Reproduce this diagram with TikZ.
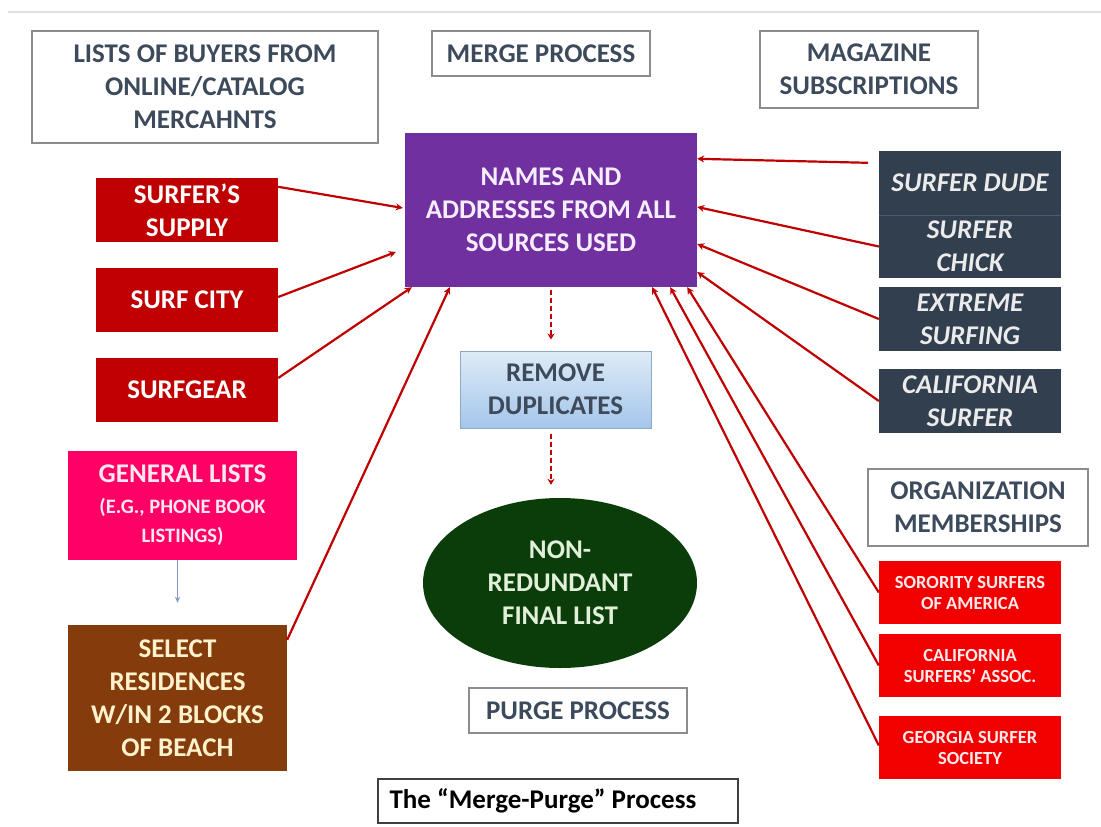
\documentclass[tikz,border=0pt]{standalone}
\usepackage{fontspec}
\setmainfont{Carlito}
\usetikzlibrary{arrows.meta,calc,shapes.geometric}
\definecolor{hdrtext}{HTML}{3C4A5C}
\definecolor{bordergray}{HTML}{8C8C8C}
\definecolor{mergepurple}{HTML}{7030A0}
\definecolor{darkred}{HTML}{C00000}
\definecolor{navy}{HTML}{323F4F}
\definecolor{navyline}{HTML}{4A5A72}
\definecolor{brightred}{HTML}{F20000}
\definecolor{hotpink}{HTML}{FF0066}
\definecolor{selbrown}{HTML}{843C0C}
\definecolor{forest}{HTML}{0B3D0B}
\definecolor{lightblueA}{HTML}{DEEBF7}
\definecolor{lightblueB}{HTML}{A5C6EA}
\definecolor{blueborder}{HTML}{8FA8C8}
\definecolor{bluearrow}{HTML}{7F9CC0}
\definecolor{cream}{HTML}{FFF2CC}
\definecolor{palegreen}{HTML}{E2F0D9}
\definecolor{lavender}{HTML}{F6EEFF}
\definecolor{palepink}{HTML}{FFE8F0}
\begin{document}
\begin{tikzpicture}[x=1pt,y=-1pt,
  box/.style={rectangle, inner sep=0pt, align=center, font=\bfseries\fontsize{27}{33}\selectfont},
  hdr/.style={box, draw=bordergray, line width=1.3pt, fill=white, text=hdrtext},
  srcred/.style={box, fill=darkred, text=white, minimum width=182pt, minimum height=64pt},
  mag/.style={box, fill=navy, text=white!92!black, minimum width=182pt, font=\bfseries\itshape\fontsize{27}{33}\selectfont},
  org/.style={box, fill=brightred, text=white!92!red, minimum width=182pt, minimum height=63pt, font=\bfseries\fontsize{18.5}{21}\selectfont},
  conn/.style={draw=darkred, line width=2.2pt, -{Stealth[length=7pt,width=7pt]}},
  dashconn/.style={draw=darkred, line width=2.8pt, dash pattern=on 5pt off 3pt, -{Stealth[length=6pt,width=7pt]}}
]
\useasboundingbox (0,0) rectangle (1101,827);
\fill[white] (0,0) rectangle (1101,827);
\draw[black!12, line width=2pt] (8,12) -- (1101,12);

% headers
\node[hdr, minimum width=346pt, minimum height=112pt] (lists) at (205,87) {LISTS OF BUYERS FROM\\ONLINE/CATALOG\\MERCAHNTS};
\node[hdr, minimum width=218pt, minimum height=45pt] (merge) at (541,53.5) {MERGE PROCESS};
\node[hdr, minimum width=218pt, minimum height=77pt] (magsub) at (869,69.5) {MAGAZINE\\SUBSCRIPTIONS};
\node[hdr, minimum width=220pt, minimum height=77pt] (orgmem) at (978,507.5) {ORGANIZATION\\MEMBERSHIPS};
\node[hdr, minimum width=218pt, minimum height=45pt] (purge) at (578,710.5) {PURGE PROCESS};
\node[box, draw=black!75, line width=1.3pt, text=black, minimum width=360pt, minimum height=44pt, font=\bfseries\fontsize{27}{30}\selectfont] (title) at (558,801) {\hspace*{-30pt}The “Merge-Purge” Process};

% central
\node[box, fill=mergepurple, text=lavender, minimum width=292pt, minimum height=154pt] (purple) at (551,210) {NAMES AND\\ADDRESSES FROM ALL\\SOURCES USED};
\node[box, top color=lightblueA, bottom color=lightblueB, draw=blueborder, line width=1pt, text=hdrtext, minimum width=191pt, minimum height=77pt] (remove) at (555.5,389.5) {REMOVE\\DUPLICATES};
\node[box, ellipse, fill=forest, text=palegreen, minimum width=274pt, minimum height=170pt] (final) at (560,583) {NON-\\REDUNDANT\\FINAL LIST};

% left sources
\node[srcred] (supply) at (187,210) {SURFER’S\\SUPPLY};
\node[srcred] (city) at (187,300) {SURF CITY};
\node[srcred] (gear) at (187,390) {SURFGEAR};
\node[box, fill=hotpink, text=palepink, minimum width=229pt, minimum height=109pt] (general) at (182.5,505.5) {GENERAL LISTS\\[-2pt]\fontsize{20.5}{26}\selectfont (E.G., PHONE BOOK\\[-4pt]\fontsize{20.5}{26}\selectfont LISTINGS)};
\node[box, fill=selbrown, text=cream, minimum width=219pt, minimum height=146pt] (select) at (177.5,698) {SELECT\\RESIDENCES\\W/IN 2 BLOCKS\\OF BEACH};

% right magazines
\node[mag, minimum height=64pt] (dude) at (970,183) {SURFER DUDE};
\node[mag, minimum height=63pt] (chick) at (970,246.5) {SURFER\\CHICK};
\draw[navyline, line width=1pt] (dude.south west) -- (dude.south east);
\node[mag, minimum height=64pt] (extreme) at (970,319) {EXTREME\\SURFING};
\node[mag, minimum height=64pt] (calif) at (970,401) {CALIFORNIA\\SURFER};

% right organizations
\node[org] (sorority) at (970,592.5) {SORORITY SURFERS\\OF AMERICA};
\node[org] (calassoc) at (970,665.5) {CALIFORNIA\\SURFERS’ ASSOC.};
\node[org] (georgia) at (970,747.5) {GEORGIA SURFER\\SOCIETY};

% connectors left
\draw[conn] ([yshift=-9pt]supply.north east) -- ([xshift=-2pt,yshift=2pt]purple.west);
\draw[conn] ([yshift=3pt]city.east) -- ([xshift=-9pt,yshift=-42pt]purple.west);
\draw[conn] ([yshift=12pt]gear.east) -- ([xshift=7pt]purple.south west);
\draw[conn] ([yshift=-15pt]select.north east) -- ([xshift=45pt]purple.south west);

% connectors right
\draw[conn] ([xshift=-11pt,yshift=-12pt]dude.north west) -- ([yshift=-26pt]purple.north east);
\draw[conn] (chick.west) -- ([yshift=3pt]purple.east);
\draw[conn] (extreme.west) -- ([yshift=-34pt]purple.east);
\draw[conn] (calif.west) -- ([yshift=-62pt]purple.east);
\draw[conn] (sorority.west) -- ([xshift=-10pt]purple.south east);
\draw[conn] (calassoc.west) -- ([xshift=-27pt]purple.south east);
\draw[conn] ([yshift=2pt]georgia.west) -- ([xshift=-45pt]purple.south east);

% process flow
\draw[dashconn] ($(purple.south)+(0,-3pt)$) -- ($(purple.south |- remove.north)+(0,11pt)$);
\draw[dashconn] ($(purple.south |- remove.south)+(0,-5pt)$) -- ($(purple.south |- final.north)+(0,13pt)$);
\draw[bluearrow, line width=1.5pt, -{Stealth[length=6pt,width=5pt]}] (select.north |- general.south) -- ($(select.north)+(0,22pt)$);
\end{tikzpicture}
\end{document}
